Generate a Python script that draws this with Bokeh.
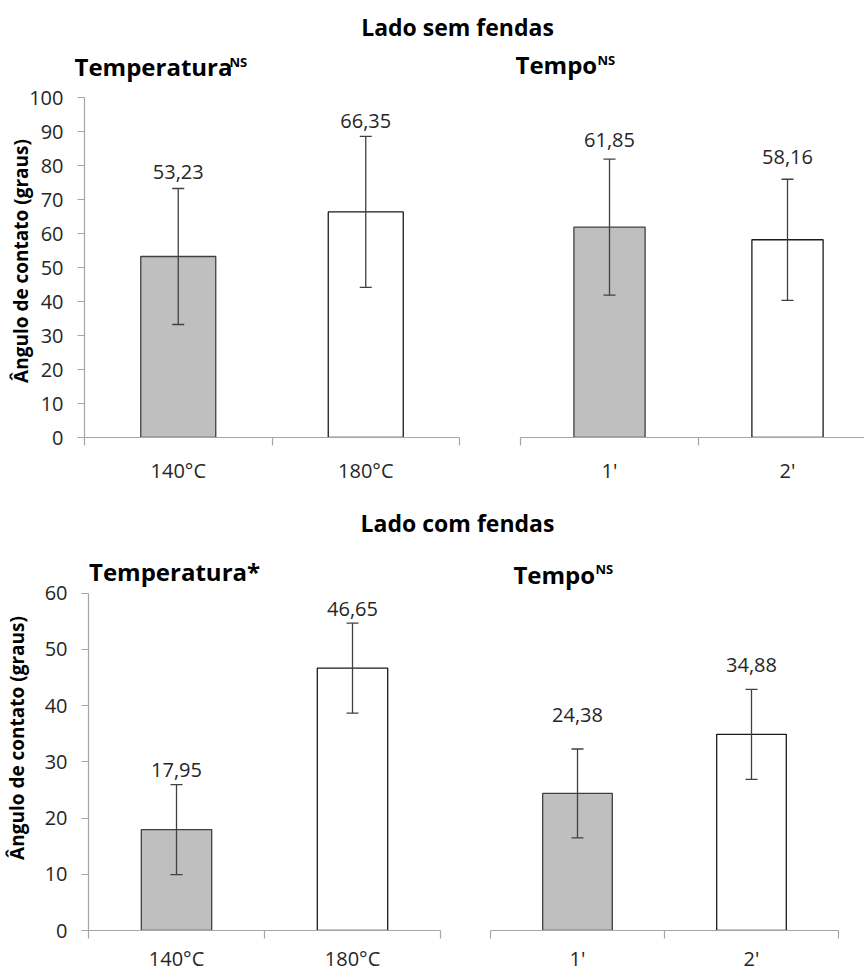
from bokeh.plotting import figure
from bokeh.layouts import column, row
from bokeh.models import ColumnDataSource, Range1d, FixedTicker, Whisker, TeeHead, Label
from bokeh.core.properties import value
from bokeh.embed import file_html
from bokeh.resources import INLINE

# ---------------- data ----------------
temp_cats = ["140°C", "180°C"]
time_cats = ["1'", "2'"]

# Lado sem fendas
sem_temp_mean = [53.23, 66.35]
sem_temp_err = [20.0, 22.2]
sem_time_mean = [61.85, 58.16]
sem_time_err = [20.0, 17.8]

# Lado com fendas
com_temp_mean = [17.95, 46.65]
com_temp_err = [8.0, 8.0]
com_time_mean = [24.38, 34.88]
com_time_err = [7.9, 8.0]

sem_yticks = [0, 10, 20, 30, 40, 50, 60, 70, 80, 90, 100]
com_yticks = [0, 10, 20, 30, 40, 50, 60]

# vertical placement of the value labels (data units)
sem_temp_lab_y = [78.0, 93.2]
sem_time_lab_y = [87.6, 82.4]
com_temp_lab_y = [28.5, 57.2]
com_time_lab_y = [38.4, 47.3]

# ---------------- style ----------------
FONT = "Open Sans"
bar_fill = ["#BFBFBF", "#FFFFFF"]
bar_line = ["#404040", "#1A1A1A"]
AXIS_GRAY = "#A6A6A6"
TXT = "#262626"
YLABEL = "Ângulo de contato (graus)"


def fmt(v):
    return f"{v:.2f}".replace(".", ",")


def title_labels(target, x, y, text, sup=None, sx=None, sy=None):
    target.add_layout(Label(x=x, y=y, text=text, text_font=FONT, text_font_style="bold",
                            text_font_size="24px", text_color="black",
                            text_align="left", text_baseline="middle"))
    if sup:
        target.add_layout(Label(x=sx, y=sy, text=sup, text_font=FONT, text_font_style="bold",
                                text_font_size="13px", text_color="black",
                                text_align="left", text_baseline="middle"))


def panel(cats, means, errs, lab_y, yticks, width, height, left, right, top_px, bottom,
          x_end, show_y, ylab_standoff, xlab_standoff):
    n = len(cats)
    xs = [i + 0.5 for i in range(n)]
    frame_h = height - bottom
    plot_h = frame_h - top_px
    y_end = yticks[0] + (yticks[-1] - yticks[0]) * frame_h / plot_h
    src = ColumnDataSource(dict(
        x=xs, top=means,
        upper=[m + e for m, e in zip(means, errs)],
        lower=[m - e for m, e in zip(means, errs)],
        fill=bar_fill[:n], line=bar_line[:n],
        lab=[fmt(m) for m in means], laby=lab_y,
    ))
    p = figure(width=width, height=height,
               x_range=Range1d(0, x_end), y_range=Range1d(yticks[0], y_end),
               output_backend="svg", toolbar_location=None,
               y_axis_location="left" if show_y else None,
               min_border_left=left, min_border_right=right,
               min_border_top=0, min_border_bottom=bottom)
    p.outline_line_color = None
    p.grid.visible = False
    p.background_fill_color = "white"
    p.border_fill_color = "white"

    p.vbar(x="x", top="top", bottom=0, width=0.4, fill_color="fill",
           line_color="line", line_width=1.3, source=src)
    w = Whisker(source=src, base="x", upper="upper", lower="lower",
                line_color="#404040", line_width=1.3, level="overlay",
                upper_head=TeeHead(size=12, line_color="#404040", line_width=1.3),
                lower_head=TeeHead(size=12, line_color="#404040", line_width=1.3))
    p.add_layout(w)
    p.text(x="x", y="laby", text="lab", source=src, text_align="center",
           text_baseline="middle", text_font=value(FONT), text_font_size="20px",
           text_color=TXT)

    ax = p.xaxis[0]
    ax.ticker = FixedTicker(ticks=xs, minor_ticks=list(range(n + 1)))
    ax.major_label_overrides = {x: c for x, c in zip(xs, cats)}
    ax.major_tick_line_color = None
    ax.major_tick_in = 0
    ax.major_tick_out = 8
    ax.minor_tick_in = 0
    ax.minor_tick_out = 8
    ax.minor_tick_line_color = AXIS_GRAY
    ax.minor_tick_line_width = 1.2
    ax.axis_line_color = AXIS_GRAY
    ax.axis_line_width = 1.2
    ax.major_label_text_font = FONT
    ax.major_label_text_font_size = "20px"
    ax.major_label_text_color = TXT
    ax.major_label_standoff = xlab_standoff

    if show_y:
        ay = p.yaxis[0]
        ay.ticker = FixedTicker(ticks=yticks)
        ay.bounds = (yticks[0], yticks[-1])
        ay.major_tick_in = 0
        ay.major_tick_out = 7
        ay.major_tick_line_color = AXIS_GRAY
        ay.major_tick_line_width = 1.2
        ay.minor_tick_line_color = None
        ay.axis_line_color = AXIS_GRAY
        ay.axis_line_width = 1.2
        ay.major_label_text_font = FONT
        ay.major_label_text_font_size = "20px"
        ay.major_label_text_color = TXT
        ay.major_label_standoff = 14
        ay.axis_label = YLABEL
        ay.axis_label_text_font = FONT
        ay.axis_label_text_font_style = "bold"
        ay.axis_label_text_font_size = "19px"
        ay.axis_label_text_color = "black"
        ay.axis_label_standoff = ylab_standoff
    return p


def strip(height, main, subs=()):
    """Title band: main title (and optionally sub-titles), pixel coordinates."""
    s = figure(width=864, height=height, x_range=Range1d(0, 864), y_range=Range1d(0, height),
               output_backend="svg", toolbar_location=None, min_border=0,
               x_axis_location=None, y_axis_location=None)
    s.outline_line_color = None
    s.grid.visible = False
    text, cx, cy = main
    s.add_layout(Label(x=cx, y=height - cy, text=text, text_font=FONT,
                       text_font_style="bold", text_font_size="23px", text_color="black",
                       text_align="center", text_baseline="middle"))
    for text, x, y, sup, sx, sy in subs:
        title_labels(s, x, height - y, text, sup, sx, None if sy is None else height - sy)
    return s


# ---------------- row 1: Lado sem fendas ----------------
t1 = strip(84, ("Lado sem fendas", 457, 26.5),
           [("Temperatura", 74, 65.5, "NS", 229, 61),
            ("Tempo", 515, 64, "NS", 597, 59.5)])

p1 = panel(temp_cats, sem_temp_mean, sem_temp_err, sem_temp_lab_y, sem_yticks,
           470, 416, 84, 11, 13, 63, 2, True, -8, 11)
p2 = panel(time_cats, sem_time_mean, sem_time_err, sem_time_lab_y, sem_yticks,
           394, 416, 50, 0, 13, 63, 344 / 178, False, 0, 11)

# ---------------- row 2: Lado com fendas ----------------
t2 = strip(45, ("Lado com fendas", 457, 22.5))

p3 = panel(temp_cats, com_temp_mean, com_temp_err, com_temp_lab_y, com_yticks,
           465, 429, 83, 25, 48, 41, 2, True, 12, 6)
title_labels(p3, 0.003, 63.8, "Temperatura*")

p4 = panel(time_cats, com_time_mean, com_time_err, com_time_lab_y, com_yticks,
           399, 429, 25, 26, 48, 41, 2, False, 0, 6)
title_labels(p4, 0.132, 63.35, "Tempo", "NS", 0.603, 64.3)

layout = column(t1, row(p1, p2), t2, row(p3, p4))

open("out.html", "w").write(file_html(layout, INLINE))
